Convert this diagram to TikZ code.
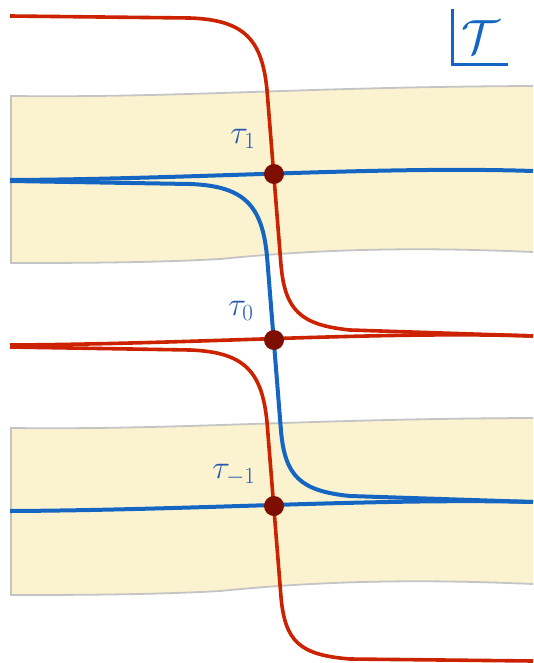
\RequirePackage{fix-cm}
\documentclass[tikz,border=0pt]{standalone}
\usepackage{amsmath}
\definecolor{bandfill}{HTML}{FBF3D0}
\definecolor{bandedge}{HTML}{C4C4C4}
\definecolor{curveblue}{HTML}{1466C2}
\definecolor{curvered}{HTML}{CC2200}
\definecolor{dotred}{HTML}{7E0E00}
\definecolor{labelblue}{HTML}{2459AE}
\begin{document}
\begin{tikzpicture}[x=1pt,y=-1pt,
  band/.style={fill=bandfill,draw=bandedge,line width=1.8pt},
  bluecurve/.style={draw=curveblue,line width=4pt},
  redcurve/.style={draw=curvered,line width=3.6pt},
  crossdot/.style={circle,fill=dotred,inner sep=0pt,minimum size=20pt},
  taulabel/.style={text=labelblue,font=\fontsize{33}{38}\selectfont,inner sep=0pt},
  axisline/.style={draw=curveblue,line width=3pt}]
\clip (0,0) rectangle (533,663);
\fill[white] (0,0) rectangle (533,663);
% bands
\foreach \s in {0,332}{
\path[band,yshift=-\s pt] (11,96) .. controls (180,98) and (300,87) .. (533,86) -- (545,86) -- (545,252) -- (533,252)
  .. controls (440,248) and (340,247) .. (220,259) .. controls (150,263) and (60,263) .. (11,263) -- cycle;
}
% curves
\draw[redcurve] (10,16) -- (190,18) .. controls (245,20) and (262,40) .. (267,90) -- (281,265)
  .. controls (285,310) and (300,325) .. (350,330) -- (533,336);
\draw[bluecurve] (10,181) -- (190,184) .. controls (245,186) and (262,206) .. (267,256) -- (281,431)
  .. controls (285,476) and (300,491) .. (350,496) -- (533,502);
\draw[redcurve] (10,347) -- (190,350) .. controls (245,352) and (262,372) .. (267,422) -- (281,597)
  .. controls (285,642) and (300,655) .. (350,659) -- (533,661);
\draw[bluecurve] (10,180) .. controls (200,179) and (380,166) .. (533,171);
\draw[redcurve] (10,345) .. controls (200,344) and (380,331) .. (533,336);
\draw[bluecurve] (10,511) .. controls (200,510) and (380,498) .. (533,502);
% crossings
\node[crossdot] (c1) at (274,174) {};
\node[crossdot] (c0) at (274,340) {};
\node[crossdot] (cm) at (274,506) {};
\node[taulabel] (l1) at (243,139) {$\tau_1$};
\node[taulabel] (l0) at (241,311) {$\tau_0$};
\node[taulabel] (lm) at (234,475) {$\tau_{-1}$};
% corner symbol
\draw[axisline] (452,9) -- (452,65) -- (508,65);
\node[text=curveblue,font=\fontsize{48}{52}\selectfont,inner sep=0pt] (sym) at (481,37) {$\mathcal{T}$};
\end{tikzpicture}
\end{document}
